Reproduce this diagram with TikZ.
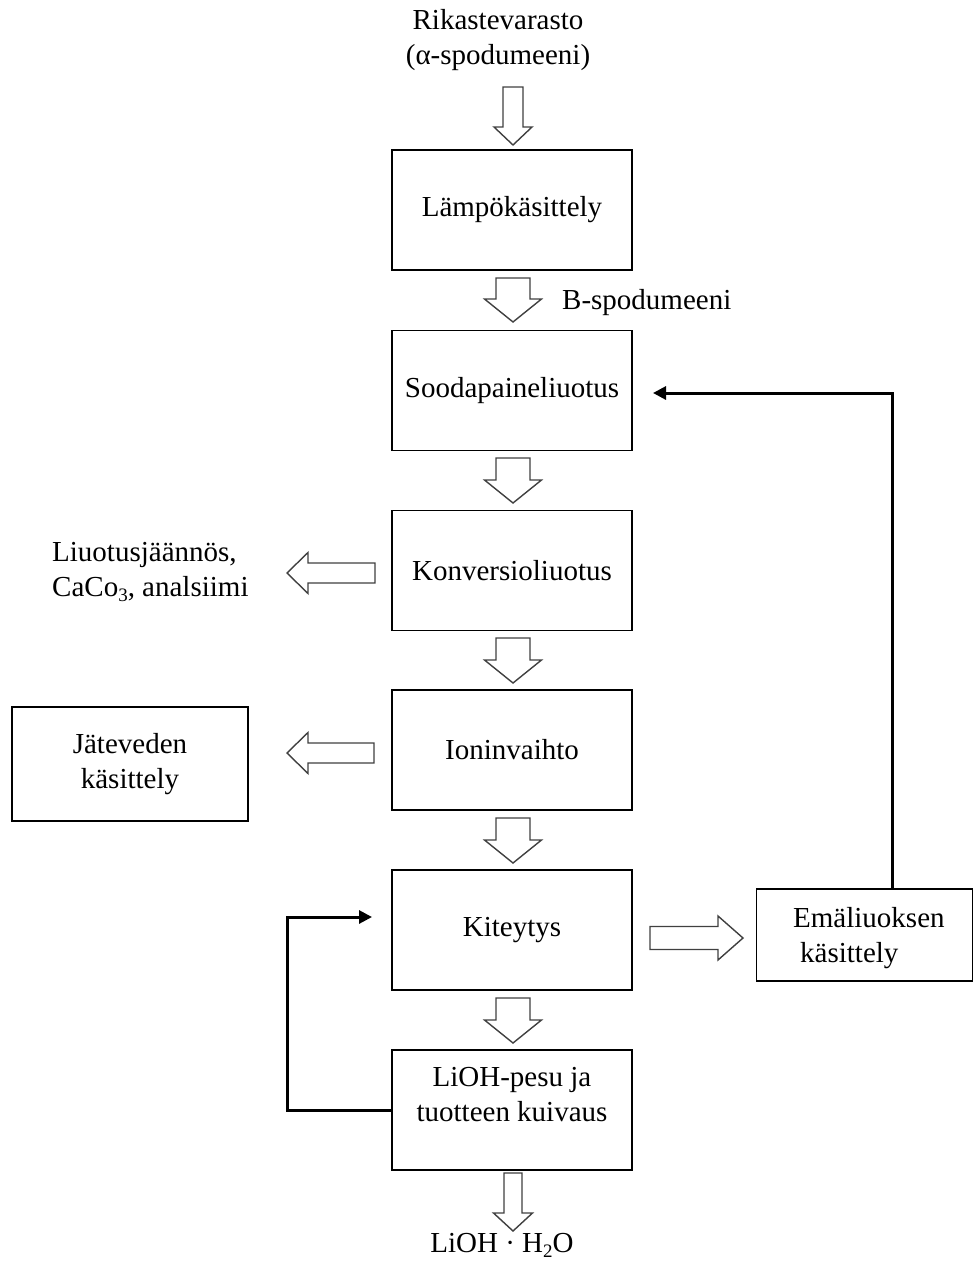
\documentclass[tikz,border=0pt]{standalone}
\usepackage{fontspec}
\setmainfont{Liberation Serif}
\usetikzlibrary{arrows.meta,calc}
\newcommand{\vblk}[6]{% cx, ytop, half shaft, half head, yhead, ytip
  \draw[blk] ({#1-#3},#2) -- ({#1+#3},#2) -- ({#1+#3},#5) -- ({#1+#4},#5) -- (#1,#6) -- ({#1-#4},#5) -- ({#1-#3},#5) -- cycle;}
\newcommand{\hblk}[6]{% cy, xtail, half shaft, half head, xhead, xtip
  \draw[blk] (#2,{#1-#3}) -- (#2,{#1+#3}) -- (#5,{#1+#3}) -- (#5,{#1+#4}) -- (#6,#1) -- (#5,{#1-#4}) -- (#5,{#1-#3}) -- cycle;}
\newcommand{\lowsub}[1]{\raisebox{-0.18em}{\fontsize{19}{19}\selectfont #1}}
\begin{document}
\begin{tikzpicture}[x=1pt,y=-1pt,
  every node/.style={font=\fontsize{29}{35}\selectfont},
  procbox/.style={draw, line width=1.3pt, minimum width=240pt, minimum height=120pt, inner sep=0pt, align=center},
  plain/.style={inner sep=0pt, align=center},
  blk/.style={draw=black!75, line width=1.4pt, fill=white, line join=miter},
  fb/.style={draw=black, line width=3pt, -{Triangle[length=13pt,width=13pt]}}]
\useasboundingbox (0,0) rectangle (974,1263);

% title
\node[plain] (title) at (498,40) {Rikastevarasto\\(α-spodumeeni)};

% main boxes
\node[procbox] (lampo) at (512,210) {Lämpökäsittely};
\node[procbox] (sooda) at (512,390.5) {Soodapaineliuotus};
\node[procbox] (konv) at (512,570.5) {Konversioliuotus};
\node[procbox] (ioni) at (512,750) {Ioninvaihto};
\node[procbox] (kite) at (512,930) {Kiteytys};
\node[procbox] (lioh) at (512,1110) {};
\node[plain] (liohtxt) at (512,1095) {LiOH-pesu ja\\tuotteen kuivaus};

% side boxes
\node[procbox, minimum width=236pt, minimum height=114pt] (jate) at (130,764) {Jäteveden\\käsittely};
\node[draw, line width=1.3pt, minimum width=216pt, minimum height=92pt, inner sep=0pt] (emal) at (864.5,935) {};
\node[plain, anchor=west, align=left] (emaltxt) at (793,938) {Emäliuoksen\\\hspace{7pt}käsittely};

% side texts
\node[plain, anchor=west] (bspod) at (562,303) {B-spodumeeni};
\node[plain, anchor=west, align=left] (liuot) at (52,572) {Liuotusjäännös,\\CaCo\lowsub{3}, analsiimi};
\node[plain] (prod) at (502,1245) {LiOH · H\lowsub{2}O};

% block arrows (down)
\vblk{513}{87}{10}{19}{127}{145}
\vblk{513}{278}{17}{28.5}{299}{322}
\vblk{513}{458}{17}{28.5}{480}{503}
\vblk{513}{638}{17}{28.5}{660}{683}
\vblk{513}{818}{17}{28.5}{840}{863}
\vblk{513}{998}{17}{28.5}{1020}{1043}
\vblk{513}{1173}{9}{19.5}{1213}{1231}

% block arrows (left / right)
\hblk{573}{375}{10}{20.5}{308}{287}
\hblk{753}{374}{10}{20.5}{308}{287}
\hblk{938}{650}{11.5}{22}{718}{743}

% feedback connectors
\coordinate (stip) at (653,393);
\coordinate (rcorner) at (892,393);
\draw[fb] ([xshift=27.5pt]emal.north) -- (rcorner) -- (stip);

\coordinate (ktip) at (372,917);
\coordinate (lcorner) at (287,917);
\draw[fb] (lioh.west) -| (lcorner) -- (ktip);
\end{tikzpicture}
\end{document}
